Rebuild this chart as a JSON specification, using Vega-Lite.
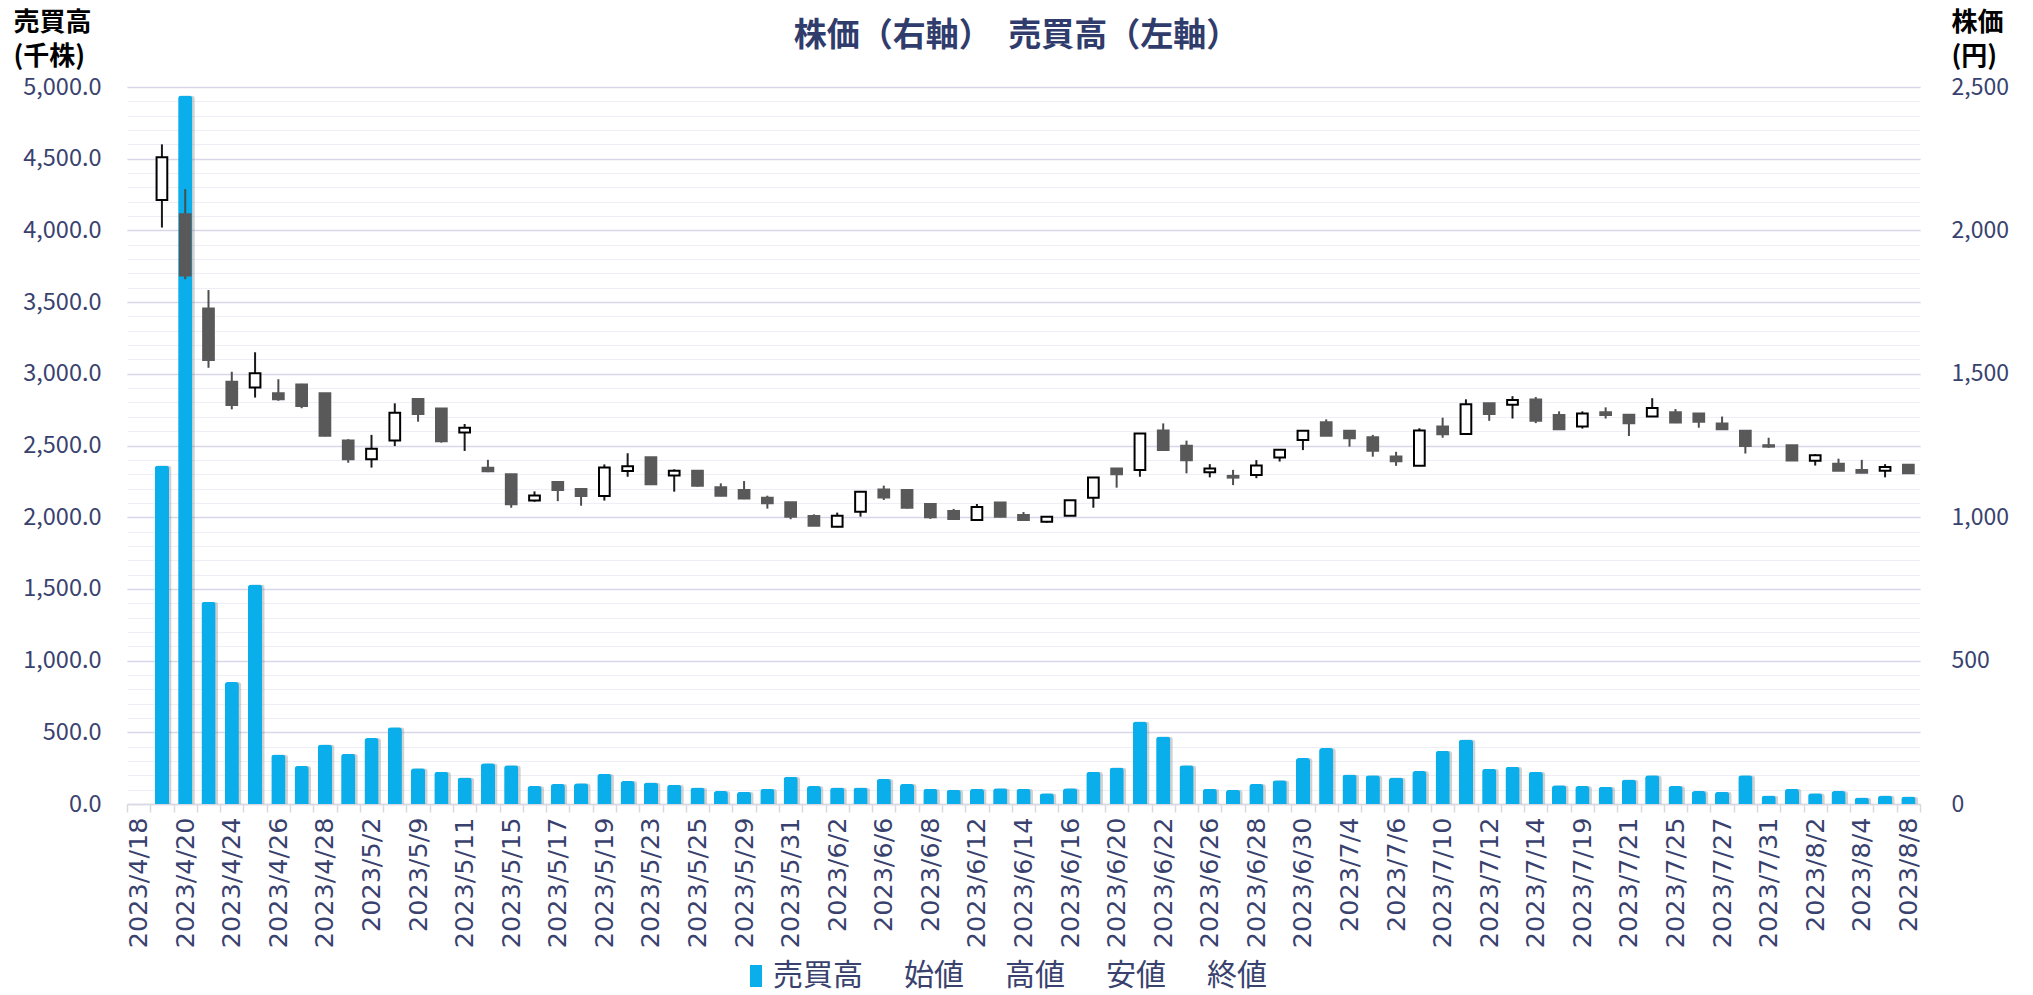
{
  "$schema": "https://vega.github.io/schema/vega-lite/v6.json",
  "width": 1793,
  "height": 717,
  "autosize": {"type": "none"},
  "padding": {"left": 127, "top": 87, "right": 113, "bottom": 191},
  "background": "#FFFFFF",
  "config": {"view": {"stroke": null}, "font": "Noto Sans CJK JP"},
  "title": {"text": "株価（右軸）　売買高（左軸）", "font": "Noto Sans CJK JP", "fontSize": 33, "fontWeight": "bold", "color": "#303C6C", "anchor": "middle", "frame": "group", "offset": 0, "dy": 44, "dx": -7},
  "data": {"values": [
    {"d": "2023/4/18"},
    {"d": "2023/4/19", "vol": 2360, "o": 2106, "h": 2300, "l": 2010, "c": 2255},
    {"d": "2023/4/20", "vol": 4940, "o": 2056, "h": 2144, "l": 1830, "c": 1843},
    {"d": "2023/4/21", "vol": 1410, "o": 1728, "h": 1792, "l": 1521, "c": 1548},
    {"d": "2023/4/24", "vol": 850, "o": 1472, "h": 1507, "l": 1376, "c": 1391},
    {"d": "2023/4/25", "vol": 1530, "o": 1452, "h": 1575, "l": 1417, "c": 1502},
    {"d": "2023/4/26", "vol": 345, "o": 1432, "h": 1481, "l": 1406, "c": 1411},
    {"d": "2023/4/27", "vol": 265, "o": 1463, "h": 1465, "l": 1380, "c": 1388},
    {"d": "2023/4/28", "vol": 415, "o": 1432, "h": 1433, "l": 1282, "c": 1284},
    {"d": "2023/5/1", "vol": 350, "o": 1267, "h": 1272, "l": 1190, "c": 1202},
    {"d": "2023/5/2", "vol": 460, "o": 1202, "h": 1287, "l": 1173, "c": 1239},
    {"d": "2023/5/8", "vol": 535, "o": 1267, "h": 1397, "l": 1248, "c": 1364},
    {"d": "2023/5/9", "vol": 250, "o": 1412, "h": 1413, "l": 1333, "c": 1360},
    {"d": "2023/5/10", "vol": 225, "o": 1379, "h": 1380, "l": 1260, "c": 1265},
    {"d": "2023/5/11", "vol": 185, "o": 1295, "h": 1325, "l": 1231, "c": 1312},
    {"d": "2023/5/12", "vol": 285, "o": 1172, "h": 1200, "l": 1157, "c": 1160},
    {"d": "2023/5/15", "vol": 270, "o": 1150, "h": 1151, "l": 1033, "c": 1045},
    {"d": "2023/5/16", "vol": 125, "o": 1058, "h": 1090, "l": 1054, "c": 1076},
    {"d": "2023/5/17", "vol": 140, "o": 1123, "h": 1126, "l": 1056, "c": 1095},
    {"d": "2023/5/18", "vol": 145, "o": 1098, "h": 1100, "l": 1040, "c": 1074},
    {"d": "2023/5/19", "vol": 210, "o": 1074, "h": 1184, "l": 1058, "c": 1173},
    {"d": "2023/5/22", "vol": 160, "o": 1161, "h": 1223, "l": 1141, "c": 1178},
    {"d": "2023/5/23", "vol": 150, "o": 1209, "h": 1210, "l": 1112, "c": 1115},
    {"d": "2023/5/24", "vol": 135, "o": 1145, "h": 1167, "l": 1089, "c": 1162},
    {"d": "2023/5/25", "vol": 115, "o": 1162, "h": 1163, "l": 1106, "c": 1110},
    {"d": "2023/5/26", "vol": 90, "o": 1104, "h": 1118, "l": 1073, "c": 1075},
    {"d": "2023/5/29", "vol": 85, "o": 1095, "h": 1126, "l": 1063, "c": 1065},
    {"d": "2023/5/30", "vol": 105, "o": 1068, "h": 1075, "l": 1030, "c": 1049},
    {"d": "2023/5/31", "vol": 190, "o": 1052, "h": 1053, "l": 993, "c": 1002},
    {"d": "2023/6/1", "vol": 125, "o": 1004, "h": 1010, "l": 969, "c": 970},
    {"d": "2023/6/2", "vol": 115, "o": 967, "h": 1016, "l": 965, "c": 1005},
    {"d": "2023/6/5", "vol": 115, "o": 1019, "h": 1090, "l": 1002, "c": 1089},
    {"d": "2023/6/6", "vol": 175, "o": 1097, "h": 1110, "l": 1060, "c": 1069},
    {"d": "2023/6/7", "vol": 140, "o": 1095, "h": 1096, "l": 1030, "c": 1033},
    {"d": "2023/6/8", "vol": 105, "o": 1046, "h": 1047, "l": 994, "c": 1000},
    {"d": "2023/6/9", "vol": 100, "o": 1022, "h": 1029, "l": 993, "c": 994},
    {"d": "2023/6/12", "vol": 105, "o": 990, "h": 1046, "l": 989, "c": 1036},
    {"d": "2023/6/13", "vol": 110, "o": 1051, "h": 1052, "l": 1000, "c": 1002},
    {"d": "2023/6/14", "vol": 105, "o": 1008, "h": 1018, "l": 989, "c": 990},
    {"d": "2023/6/15", "vol": 75, "o": 984, "h": 1003, "l": 981, "c": 1002},
    {"d": "2023/6/16", "vol": 110, "o": 1005, "h": 1060, "l": 1004, "c": 1059},
    {"d": "2023/6/19", "vol": 225, "o": 1068, "h": 1139, "l": 1033, "c": 1138},
    {"d": "2023/6/20", "vol": 255, "o": 1170, "h": 1171, "l": 1103, "c": 1150},
    {"d": "2023/6/21", "vol": 575, "o": 1165, "h": 1293, "l": 1141, "c": 1292},
    {"d": "2023/6/22", "vol": 470, "o": 1302, "h": 1327, "l": 1233, "c": 1234},
    {"d": "2023/6/23", "vol": 270, "o": 1249, "h": 1267, "l": 1153, "c": 1199},
    {"d": "2023/6/26", "vol": 105, "o": 1157, "h": 1185, "l": 1139, "c": 1170},
    {"d": "2023/6/27", "vol": 100, "o": 1144, "h": 1165, "l": 1112, "c": 1138},
    {"d": "2023/6/28", "vol": 140, "o": 1147, "h": 1199, "l": 1136, "c": 1180},
    {"d": "2023/6/29", "vol": 165, "o": 1208, "h": 1236, "l": 1194, "c": 1235},
    {"d": "2023/6/30", "vol": 320, "o": 1269, "h": 1302, "l": 1234, "c": 1301},
    {"d": "2023/7/3", "vol": 390, "o": 1331, "h": 1341, "l": 1283, "c": 1284},
    {"d": "2023/7/4", "vol": 205, "o": 1301, "h": 1302, "l": 1246, "c": 1275},
    {"d": "2023/7/5", "vol": 200, "o": 1279, "h": 1287, "l": 1211, "c": 1232},
    {"d": "2023/7/6", "vol": 185, "o": 1212, "h": 1228, "l": 1179, "c": 1195},
    {"d": "2023/7/7", "vol": 230, "o": 1179, "h": 1310, "l": 1178, "c": 1302},
    {"d": "2023/7/10", "vol": 370, "o": 1316, "h": 1347, "l": 1277, "c": 1289},
    {"d": "2023/7/11", "vol": 450, "o": 1290, "h": 1411, "l": 1289, "c": 1394},
    {"d": "2023/7/12", "vol": 245, "o": 1397, "h": 1398, "l": 1336, "c": 1360},
    {"d": "2023/7/13", "vol": 260, "o": 1392, "h": 1422, "l": 1344, "c": 1409},
    {"d": "2023/7/14", "vol": 225, "o": 1410, "h": 1419, "l": 1328, "c": 1336},
    {"d": "2023/7/18", "vol": 130, "o": 1356, "h": 1369, "l": 1305, "c": 1307},
    {"d": "2023/7/19", "vol": 125, "o": 1316, "h": 1369, "l": 1309, "c": 1362},
    {"d": "2023/7/20", "vol": 120, "o": 1366, "h": 1383, "l": 1344, "c": 1356},
    {"d": "2023/7/21", "vol": 170, "o": 1357, "h": 1358, "l": 1283, "c": 1328},
    {"d": "2023/7/24", "vol": 200, "o": 1351, "h": 1415, "l": 1350, "c": 1381},
    {"d": "2023/7/25", "vol": 125, "o": 1366, "h": 1377, "l": 1328, "c": 1330},
    {"d": "2023/7/26", "vol": 90, "o": 1362, "h": 1363, "l": 1312, "c": 1333},
    {"d": "2023/7/27", "vol": 85, "o": 1327, "h": 1351, "l": 1306, "c": 1307},
    {"d": "2023/7/28", "vol": 200, "o": 1301, "h": 1302, "l": 1222, "c": 1248},
    {"d": "2023/7/31", "vol": 60, "o": 1251, "h": 1277, "l": 1242, "c": 1246},
    {"d": "2023/8/1", "vol": 105, "o": 1251, "h": 1252, "l": 1197, "c": 1198},
    {"d": "2023/8/2", "vol": 75, "o": 1197, "h": 1220, "l": 1180, "c": 1216},
    {"d": "2023/8/3", "vol": 90, "o": 1186, "h": 1204, "l": 1161, "c": 1162},
    {"d": "2023/8/4", "vol": 45, "o": 1165, "h": 1200, "l": 1153, "c": 1155},
    {"d": "2023/8/7", "vol": 60, "o": 1162, "h": 1185, "l": 1139, "c": 1175},
    {"d": "2023/8/8", "vol": 52, "o": 1183, "h": 1184, "l": 1152, "c": 1153}
  ]},
  "encoding": {
    "x": {
      "field": "d", "type": "nominal",
      "scale": {"paddingInner": 0, "paddingOuter": 0, "domain": ["2023/4/18","2023/4/19","2023/4/20","2023/4/21","2023/4/24","2023/4/25","2023/4/26","2023/4/27","2023/4/28","2023/5/1","2023/5/2","2023/5/8","2023/5/9","2023/5/10","2023/5/11","2023/5/12","2023/5/15","2023/5/16","2023/5/17","2023/5/18","2023/5/19","2023/5/22","2023/5/23","2023/5/24","2023/5/25","2023/5/26","2023/5/29","2023/5/30","2023/5/31","2023/6/1","2023/6/2","2023/6/5","2023/6/6","2023/6/7","2023/6/8","2023/6/9","2023/6/12","2023/6/13","2023/6/14","2023/6/15","2023/6/16","2023/6/19","2023/6/20","2023/6/21","2023/6/22","2023/6/23","2023/6/26","2023/6/27","2023/6/28","2023/6/29","2023/6/30","2023/7/3","2023/7/4","2023/7/5","2023/7/6","2023/7/7","2023/7/10","2023/7/11","2023/7/12","2023/7/13","2023/7/14","2023/7/18","2023/7/19","2023/7/20","2023/7/21","2023/7/24","2023/7/25","2023/7/26","2023/7/27","2023/7/28","2023/7/31","2023/8/1","2023/8/2","2023/8/3","2023/8/4","2023/8/7","2023/8/8"]},
      "axis": {
        "title": null, "tickBand": "extent", "ticks": true, "tickSize": 8, "tickColor": "#D9D9E3", "tickWidth": 1.5,
        "domainColor": "#D9D9E3", "domainWidth": 1.5, "grid": false,
        "labelAngle": 270, "labelFont": "DejaVu Sans", "labelFontSize": 25.5, "labelColor": "#39426E", "labelPadding": 5,
        "labelOverlap": false,
        "labelExpr": "indexof(domain('x'), datum.value) % 2 === 0 ? datum.label : ''"
      }
    }
  },
  "layer": [
    {
      "layer": [
        {
          "mark": {"type": "bar", "width": {"band": 0.61}, "color": "#7F7F7F", "opacity": 0.35, "xOffset": 2.5, "cornerRadiusTopLeft": 3, "cornerRadiusTopRight": 3},
          "encoding": {
            "y": {
              "field": "vol", "type": "quantitative",
              "scale": {"domain": [0, 5000], "nice": false, "zero": true},
              "axis": {
                "orient": "left",
                "title": ["売買高", "(千株)"], "titleAngle": 0, "titleAlign": "left", "titleBaseline": "top",
                "titleX": -114, "titleY": -78, "titleFontSize": 26, "titleFontWeight": "bold", "titleColor": "#000000", "titleLineHeight": 34, "titleFont": "Noto Sans CJK JP",
                "values": [0,100,200,300,400,500,600,700,800,900,1000,1100,1200,1300,1400,1500,1600,1700,1800,1900,2000,2100,2200,2300,2400,2500,2600,2700,2800,2900,3000,3100,3200,3300,3400,3500,3600,3700,3800,3900,4000,4100,4200,4300,4400,4500,4600,4700,4800,4900,5000],
                "labelExpr": "datum.value % 500 === 0 ? format(datum.value, ',.1f') : ''",
                "labelOverlap": false, "labelFontSize": 23.5, "labelColor": "#39426E", "labelFont": "Noto Sans CJK JP", "labelPadding": 26,
                "ticks": false, "domain": false,
                "grid": true, "gridColor": "#EEEFF6", "gridWidth": 1.2
              }
            }
          }
        },
        {
          "mark": {"type": "bar", "width": {"band": 0.61}, "cornerRadiusTopLeft": 3, "cornerRadiusTopRight": 3},
          "encoding": {
            "y": {
              "field": "vol", "type": "quantitative",
              "scale": {"domain": [0, 5000], "nice": false, "zero": true},
              "axis": {
                "orient": "left",
                "title": ["売買高", "(千株)"], "titleAngle": 0, "titleAlign": "left", "titleBaseline": "top",
                "titleX": -114, "titleY": -78, "titleFontSize": 26, "titleFontWeight": "bold", "titleColor": "#000000", "titleLineHeight": 34, "titleFont": "Noto Sans CJK JP",
                "values": [0,100,200,300,400,500,600,700,800,900,1000,1100,1200,1300,1400,1500,1600,1700,1800,1900,2000,2100,2200,2300,2400,2500,2600,2700,2800,2900,3000,3100,3200,3300,3400,3500,3600,3700,3800,3900,4000,4100,4200,4300,4400,4500,4600,4700,4800,4900,5000],
                "labelExpr": "datum.value % 500 === 0 ? format(datum.value, ',.1f') : ''",
                "labelOverlap": false, "labelFontSize": 23.5, "labelColor": "#39426E", "labelFont": "Noto Sans CJK JP", "labelPadding": 26,
                "ticks": false, "domain": false,
                "grid": true, "gridColor": "#EEEFF6", "gridWidth": 1.2
              }
            },
            "color": {
              "datum": "売買高",
              "scale": {"domain": ["売買高", "始値", "高値", "安値", "終値"], "range": ["#0AAEEA", "transparent", "transparent", "transparent", "transparent"]},
              "legend": {
                "title": null, "orient": "none", "direction": "horizontal", "legendX": 614, "legendY": 874,
                "symbolType": "M-0.55,-1L0.55,-1L0.55,1L-0.55,1Z", "symbolSize": 484, "symbolStrokeWidth": 0, "labelOffset": 2, "columnPadding": 9,
                "labelFont": "Noto Sans CJK JP", "labelFontSize": 30, "labelColor": "#39426E", "labelLimit": 300
              }
            }
          }
        }
      ]
    },
    {
      "layer": [
        {
          "mark": {"type": "rule", "strokeWidth": 2},
          "encoding": {
            "y": {
              "field": "l", "type": "quantitative",
              "scale": {"domain": [0, 2500], "nice": false, "zero": true},
              "axis": {
                "orient": "right",
                "title": ["株価", "(円)"], "titleAngle": 0, "titleAlign": "left", "titleBaseline": "top",
                "titleX": 31, "titleY": -78, "titleFontSize": 26, "titleFontWeight": "bold", "titleColor": "#000000", "titleLineHeight": 34, "titleFont": "Noto Sans CJK JP",
                "values": [0, 250, 500, 750, 1000, 1250, 1500, 1750, 2000, 2250, 2500],
                "labelExpr": "datum.value % 500 === 0 ? format(datum.value, ',') : ''",
                "labelOverlap": false, "labelFontSize": 23, "labelColor": "#39426E", "labelFont": "Noto Sans CJK JP", "labelPadding": 31,
                "ticks": false, "domain": false,
                "grid": true, "gridColor": "#D6D8EA", "gridWidth": 1.5
              }
            },
            "y2": {"field": "h"},
            "color": {"condition": {"test": "datum.c > datum.o", "value": "#1A1A1A"}, "value": "#4D4D4D"}
          }
        },
        {
          "mark": {"type": "bar", "width": {"band": 0.46}, "strokeWidth": 2},
          "encoding": {
            "y": {
              "field": "o", "type": "quantitative",
              "scale": {"domain": [0, 2500], "nice": false, "zero": true},
              "axis": {
                "orient": "right",
                "title": ["株価", "(円)"], "titleAngle": 0, "titleAlign": "left", "titleBaseline": "top",
                "titleX": 31, "titleY": -78, "titleFontSize": 26, "titleFontWeight": "bold", "titleColor": "#000000", "titleLineHeight": 34, "titleFont": "Noto Sans CJK JP",
                "values": [0, 250, 500, 750, 1000, 1250, 1500, 1750, 2000, 2250, 2500],
                "labelExpr": "datum.value % 500 === 0 ? format(datum.value, ',') : ''",
                "labelOverlap": false, "labelFontSize": 23, "labelColor": "#39426E", "labelFont": "Noto Sans CJK JP", "labelPadding": 31,
                "ticks": false, "domain": false,
                "grid": true, "gridColor": "#D6D8EA", "gridWidth": 1.5
              }
            },
            "y2": {"field": "c"},
            "fill": {"condition": {"test": "datum.c > datum.o", "value": "#FFFFFF"}, "value": "#595959"},
            "stroke": {"condition": {"test": "datum.c > datum.o", "value": "#000000"}, "value": "#595959"}
          }
        }
      ]
    }
  ],
  "resolve": {"scale": {"y": "independent"}}
}
